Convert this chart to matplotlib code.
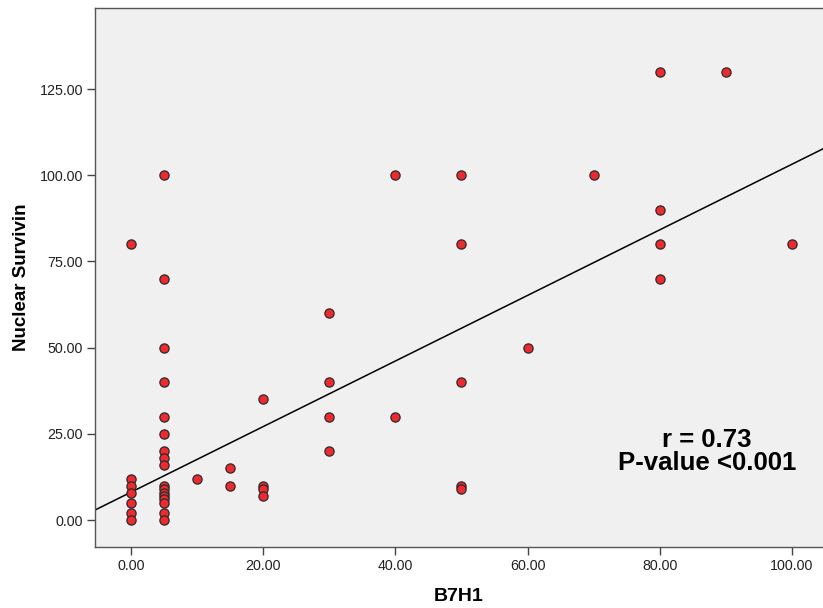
import matplotlib
matplotlib.use("Agg")
import matplotlib.pyplot as plt
import numpy as np

plt.rcParams['font.family'] = ['Liberation Sans', 'DejaVu Sans']

# Data
b7h1 = [0, 0, 0, 0, 0, 0, 0,
        5, 5, 5, 5, 5, 5, 5, 5, 5, 5, 5, 5, 5, 5, 5, 5, 5,
        10, 15, 15, 20, 20, 20, 20,
        30, 30, 30, 30, 40, 40,
        50, 50, 50, 50, 50, 60, 70,
        80, 80, 80, 80, 90, 100]
survivin = [80, 12, 10, 8, 5, 2, 0,
            100, 70, 50, 40, 30, 25, 20, 18, 16, 10, 9, 8, 7, 6, 5, 2, 0,
            12, 15, 10, 35, 10, 9, 7,
            60, 40, 30, 20, 100, 30,
            100, 80, 40, 10, 9, 50, 100,
            130, 90, 80, 70, 130, 80]

fit_intercept = 8.1
fit_slope = 0.951

x_ticks = [0, 20, 40, 60, 80, 100]
y_ticks = [0, 25, 50, 75, 100, 125]
stats_text = "r = 0.73\nP-value <0.001"

fig = plt.figure(figsize=(8.23, 6.08), dpi=100)
ax = fig.add_axes([0.1154, 0.1003, 0.8846, 0.8865])
ax.set_facecolor('#F0F0F0')

ax.set_xlim(-5.45, 104.7)
ax.set_ylim(-7.8, 148.5)

xs = np.array(ax.get_xlim())
ax.plot(xs, fit_intercept + fit_slope * xs, color='black', lw=1.1, zorder=2)

ax.scatter(b7h1, survivin, s=44, c='#EE2A2F', edgecolors='#2a2a2a',
           linewidths=0.9, zorder=3)

ax.set_xticks(x_ticks)
ax.set_xticklabels([f"{v:.2f}" for v in x_ticks])
ax.set_yticks(y_ticks)
ax.set_yticklabels([f"{v:.2f}" for v in y_ticks])
ax.tick_params(direction='out', length=5.5, width=1, colors='#444444',
               labelsize=10.3, labelcolor='#222222', pad=3)

for s in ['left', 'bottom', 'top']:
    ax.spines[s].set_color('#555555')
    ax.spines[s].set_linewidth(1.0)
ax.spines['right'].set_visible(False)

ax.set_xlabel('B7H1', fontsize=14, fontweight='bold', labelpad=11)
ax.set_ylabel('Nuclear Survivin', fontsize=13.5, fontweight='bold', labelpad=7)

ax.text(0.8407, 0.178, stats_text, transform=ax.transAxes, ha='center',
        va='center', fontsize=18.5, fontweight='bold', linespacing=0.95)

fig.savefig('out.png', dpi=100)
